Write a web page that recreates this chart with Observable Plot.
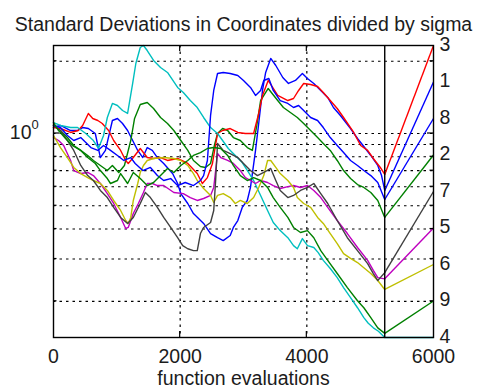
<!DOCTYPE html>
<html>
<head>
<meta charset="utf-8">
<script src="https://cdn.jsdelivr.net/npm/d3@7"></script>
<script src="https://cdn.jsdelivr.net/npm/@observablehq/plot@0.6"></script>
<style>
  html, body { margin: 0; padding: 0; background: #fff; }
  svg { display: block; }
</style>
</head>
<body>
<div id="chart"></div>
<script>
// Standard deviations of the 9 coordinates (divided by sigma) versus function evaluations.
const evals1 = [0,110,270,380,460,550,660,740,820,930,1010,1090,1170,1250,1330,1410,1480,1560,1640,1740,1880,1960,2010,2120,2210,2370,2480,2590,2680,2790,2840,2910,2980,3060,3110,3140,3190,3240,3300,3350,3430,3510,3620,3710,3820,3930,4010,4110,4220,4330,4420,4530,4690,4800,4900,5010,5120,5180,5230];
const sd1 = [1.059,1.080,1.029,1.029,1.059,1.049,1.0,0.794,0.850,1.133,1.155,1.101,1.029,0.935,0.850,0.794,0.874,0.850,0.794,0.750,0.681,0.619,0.562,0.511,0.464,0.422,0.383,0.368,0.358,0.376,0.406,0.434,0.492,0.526,0.596,0.681,0.850,1.101,1.511,1.796,2.054,1.920,1.711,1.616,1.663,1.778,1.695,1.616,1.511,1.413,1.283,1.189,1.049,0.953,0.883,0.810,0.736,0.668,0.579];

const evals2 = [0,110,220,320,430,540,630,740,850,930,1030,1120,1220,1280,1370,1480,1580,1690,1800,1900,2010,2120,2210,2320,2400,2480,2540,2590,2670,2750,2840,2950,3060,3140,3210,3270,3390,3540,3630,3740,3850,3950,4060,4170,4260,4370,4480,4580,4690,4800,4900,5010,5120,5230];
const sd2 = [1.080,1.029,0.962,0.891,0.850,0.810,0.772,0.736,0.701,0.736,0.688,0.736,0.935,1.155,1.321,1.346,1.271,1.166,1.101,1.029,0.935,0.850,0.772,0.729,0.722,0.750,0.891,1.0,1.049,1.029,0.962,0.935,0.874,0.850,1.080,1.372,1.540,1.372,1.283,1.223,1.166,1.101,1.029,0.962,0.909,0.850,0.772,0.701,0.649,0.613,0.596,0.568,0.526,0.447];

const evals3 = [0,110,270,390,460,550,620,700,770,870,950,1060,1140,1180,1260,1370,1480,1580,1690,1800,1960,2120,2270,2350,2430,2510,2590,2670,2790,2910,3030,3160,3240,3300,3390,3540,3700,3790,3870,3950,4060,4170,4260,4370,4480,4580,4740,4850,4960,5050,5160,5230];
const sd3 = [1.059,1.049,1.010,1.029,1.080,1.212,1.155,1.133,1.101,1.029,0.935,0.850,0.772,0.750,0.794,0.866,0.794,0.787,0.794,0.772,0.787,0.750,0.681,0.619,0.655,0.750,1.0,1.029,1.049,1.010,1.0,1.0,1.212,1.440,1.663,1.440,1.372,1.399,1.511,1.616,1.600,1.570,1.482,1.372,1.271,1.166,1.010,0.891,0.850,0.787,0.722,0.675];

const evals4 = [0,110,270,380,510,630,710,790,850,930,1010,1090,1170,1250,1300,1370,1420,1480,1580,1690,1800,1960,2050,2160,2270,2370,2480,2590,2670,2760,2870,2980,3080,3160,3270,3380,3470,3580,3700,3790,3850,3930,4010,4110,4180,4260,4370,4480,4580,4690,4800,4900,4970,5050,5130,5230];
const sd4 = [1.111,1.080,1.059,1.059,1.0,0.935,0.866,0.981,1.166,1.334,1.308,1.247,1.212,1.616,1.957,2.282,2.326,2.217,2.015,1.884,1.796,1.555,1.482,1.372,1.283,1.166,1.059,1.0,0.935,0.866,0.810,0.757,0.688,0.637,0.552,0.478,0.426,0.394,0.368,0.341,0.331,0.365,0.341,0.335,0.319,0.296,0.274,0.251,0.228,0.207,0.188,0.171,0.162,0.155,0.150,0.1413];

const evals5 = [0,80,160,270,320,430,540,630,740,850,950,1060,1140,1180,1260,1340,1420,1480,1560,1640,1740,1900,2050,2160,2270,2370,2480,2530,2560,2590,2640,2750,2840,2950,3030,3110,3190,3270,3380,3470,3580,3700,3790,3900,4010,4110,4220,4330,4480,4640,4800,4960,5050,5120,5230];
const sd5 = [0.962,0.935,0.891,0.772,0.701,0.681,0.688,0.668,0.619,0.562,0.511,0.447,0.402,0.406,0.464,0.511,0.568,0.619,0.619,0.607,0.607,0.568,0.562,0.541,0.526,0.536,0.552,0.596,0.701,0.825,0.794,0.772,0.750,0.701,0.655,0.637,0.619,0.637,0.625,0.607,0.590,0.601,0.607,0.596,0.607,0.579,0.541,0.492,0.434,0.383,0.335,0.296,0.269,0.251,0.248];

const evals6 = [0,110,220,320,430,540,630,740,850,950,1060,1140,1180,1220,1260,1330,1370,1420,1480,1580,1740,1900,2010,2120,2210,2270,2370,2480,2530,2590,2680,2790,2870,2950,3060,3160,3240,3320,3380,3430,3510,3580,3700,3790,3850,3950,4060,4170,4260,4370,4480,4580,4690,4800,4900,5010,5120,5230];
const sd6 = [0.981,0.874,0.794,0.722,0.681,0.655,0.637,0.619,0.579,0.526,0.478,0.434,0.422,0.447,0.526,0.619,0.688,0.736,0.772,0.787,0.794,0.787,0.772,0.736,0.681,0.637,0.590,0.552,0.516,0.552,0.562,0.541,0.511,0.526,0.511,0.541,0.596,0.668,0.772,0.772,0.722,0.681,0.637,0.596,0.541,0.511,0.492,0.447,0.422,0.383,0.348,0.316,0.302,0.290,0.276,0.261,0.244,0.224];

const evals7 = [0,110,220,320,430,540,630,740,850,950,1060,1170,1260,1370,1450,1530,1640,1740,1850,1960,2040,2120,2210,2270,2320,2370,2480,2530,2560,2590,2680,2790,2910,3000,3110,3220,3320,3430,3510,3580,3700,3790,3900,4010,4110,4220,4330,4480,4640,4800,4960,5050,5120,5160,5230];
const sd7 = [1.080,1.029,0.935,0.850,0.736,0.668,0.637,0.579,0.541,0.492,0.447,0.422,0.447,0.511,0.568,0.541,0.492,0.447,0.406,0.368,0.341,0.331,0.325,0.325,0.383,0.406,0.426,0.478,0.637,0.909,0.850,0.825,0.794,0.750,0.701,0.668,0.688,0.715,0.637,0.579,0.541,0.552,0.579,0.596,0.619,0.562,0.511,0.434,0.368,0.325,0.287,0.261,0.244,0.251,0.263];

const evals8 = [0,110,220,320,430,510,590,700,790,900,1010,1110,1220,1290,1410,1530,1640,1740,1850,1960,2080,2210,2320,2370,2430,2480,2530,2590,2680,2790,2910,3000,3110,3190,3270,3320,3400,3470,3580,3700,3790,3870,3950,4060,4170,4260,4370,4480,4580,4690,4800,4900,5010,5120,5230];
const sd8 = [1.080,1.059,0.981,0.935,0.962,0.917,0.874,0.850,0.891,0.850,0.810,0.772,0.794,0.750,0.701,0.722,0.668,0.637,0.649,0.607,0.625,0.607,0.637,0.668,0.772,1.189,1.511,1.778,1.796,1.778,1.745,1.663,1.555,1.440,1.511,1.663,1.695,1.511,1.372,1.334,1.283,1.308,1.247,1.166,1.133,1.059,0.962,0.891,0.833,0.772,0.736,0.701,0.668,0.625,0.531];

const evals9 = [0,80,190,300,430,540,660,740,850,900,1010,1060,1170,1260,1370,1480,1580,1690,1800,1900,2010,2120,2210,2320,2430,2530,2640,2750,2840,2950,3060,3160,3270,3380,3470,3580,3700,3790,3900,4010,4110,4220,4330,4480,4640,4800,4900,5010,5120,5230];
const sd9 = [1.111,1.029,0.953,0.891,0.850,0.794,0.750,0.701,0.649,0.619,0.637,0.681,0.619,0.688,0.649,0.607,0.625,0.668,0.715,0.688,0.736,0.772,0.810,0.833,0.866,0.874,0.866,0.810,0.736,0.668,0.637,0.655,0.637,0.596,0.541,0.492,0.447,0.406,0.387,0.394,0.368,0.325,0.296,0.261,0.228,0.201,0.188,0.171,0.155,0.147];

const coordEvals = [evals1, evals2, evals3, evals4, evals5, evals6, evals7, evals8, evals9];
const coordStds = [sd1, sd2, sd3, sd4, sd5, sd6, sd7, sd8, sd9];
const coordColors = ["#0000ff", "#008000", "#ff0000", "#00bfbf", "#bf00bf", "#bfbf00", "#404040", "#0000ff", "#008000"];

const xTicks = [0, 2000, 4000, 6000];
const xMax = 6000;
const yGridValues = [0.2, 0.3, 0.4, 0.5, 0.6, 0.7, 0.8, 0.9, 1, 2];
const yLabelValue = 1;
const titleText = "Standard Deviations in Coordinates divided by sigma";
const xLabelText = "function evaluations";

// one record list per coordinate
const series = coordEvals.map((ev, i) => ({
  coord: i + 1,
  color: coordColors[i],
  points: ev.map((x, j) => ({x, y: coordStds[i][j]}))
}));

const allValues = coordStds.flat();
const [yLo, yHi] = d3.extent(allValues);
const lastEval = d3.max(coordEvals, ev => ev[ev.length - 1]);

// end-of-run annotation: coordinates sorted by final value, spread evenly (log) over the y range
const ranked = series
  .map(s => ({coord: s.coord, color: s.color, end: s.points[s.points.length - 1].y}))
  .sort((a, b) => b.end - a.end);
const lHi = Math.log10(yHi), lLo = Math.log10(yLo);
ranked.forEach((r, k) => { r.pos = Math.pow(10, lHi - k * (lHi - lLo) / (ranked.length - 1)); });

const font = "'Liberation Sans', Arial, Helvetica, sans-serif";
const gridStyle = {stroke: "#000", strokeWidth: 1.2, strokeDasharray: "2.5,4"};

const plot = Plot.plot({
  width: 479,
  height: 389,
  marginLeft: 53,
  marginRight: 46,
  marginTop: 45,
  marginBottom: 52,
  style: {fontFamily: font, fontSize: "19.5px", color: "#1c1c1c", background: "#fff", overflow: "visible"},
  x: {domain: [0, xMax], ticks: xTicks, tickSize: 0, tickPadding: 12, tickFormat: d => String(d), label: null},
  y: {type: "log", domain: [yLo, yHi], axis: null},
  marks: [
    Plot.ruleY(yGridValues, gridStyle),
    Plot.ruleX(xTicks.filter(t => t > 0 && t < xMax), gridStyle),
    ...series.map(s => Plot.line(s.points, {x: "x", y: "y", stroke: s.color, strokeWidth: 1.4})),
    Plot.link(ranked, {x1: () => lastEval, y1: "end", x2: () => xMax, y2: "pos", stroke: "color", strokeWidth: 1.4}),
    Plot.ruleX([lastEval], {stroke: "#000", strokeWidth: 1.4}),
    Plot.frame({stroke: "#000", strokeWidth: 1.4}),
    Plot.text(ranked, {x: () => xMax, y: "pos", text: d => String(d.coord), textAnchor: "start", dx: 6, dy: -1, fill: "#1c1c1c"}),
    Plot.text([yLabelValue], {y: d => d, frameAnchor: "left", text: () => "10", textAnchor: "end", dx: -22, dy: -1, fill: "#1c1c1c"}),
    Plot.text([yLabelValue], {y: d => d, frameAnchor: "left", text: () => "0", textAnchor: "start", dx: -22, dy: -9, fontSize: 13, fill: "#1c1c1c"}),
    Plot.text([titleText], {text: d => d, frameAnchor: "top", lineAnchor: "bottom", dy: -15, fill: "#1c1c1c"}),
    Plot.text([xLabelText], {text: d => d, frameAnchor: "bottom", lineAnchor: "bottom", dy: 47, fill: "#1c1c1c"})
  ]
});

// inward tick marks on the frame
const sx = plot.scale("x"), sy = plot.scale("y");
const svgSel = d3.select(plot);
const frameTop = sy.apply(yHi), frameBottom = sy.apply(yLo);
const frameLeft = sx.apply(0), frameRight = sx.apply(xMax);
const tg = svgSel.append("g").attr("stroke", "#000").attr("stroke-width", 1.2);
xTicks.filter(t => t > 0 && t < xMax).forEach(t => {
  const px = sx.apply(t);
  tg.append("line").attr("x1", px).attr("x2", px).attr("y1", frameTop).attr("y2", frameTop + 6);
  tg.append("line").attr("x1", px).attr("x2", px).attr("y1", frameBottom).attr("y2", frameBottom - 6);
});
yGridValues.forEach(v => {
  const py = sy.apply(v);
  const len = v === yLabelValue ? 6 : 3.5;
  tg.append("line").attr("x1", frameLeft).attr("x2", frameLeft + len).attr("y1", py).attr("y2", py);
  tg.append("line").attr("x1", frameRight).attr("x2", frameRight - len).attr("y1", py).attr("y2", py);
});

document.getElementById("chart").appendChild(plot);
</script>
</body>
</html>
